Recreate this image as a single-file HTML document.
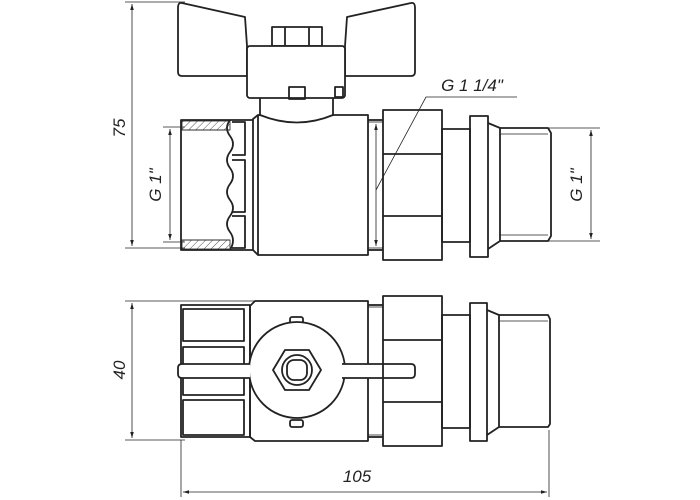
<!DOCTYPE html>
<html><head><meta charset="utf-8"><style>body{margin:0;background:#fff}svg{display:block}text{font-family:"Liberation Sans",sans-serif;font-style:italic;fill:#222}</style></head><body>
<svg width="700" height="500" viewBox="0 0 700 500" xmlns="http://www.w3.org/2000/svg">
<defs>
<pattern id="h" width="5" height="5" patternUnits="userSpaceOnUse" patternTransform="rotate(45)"><line x1="0" y1="0" x2="0" y2="5" stroke="#555" stroke-width="1"/></pattern>
<marker id="a" viewBox="0 0 10 10" refX="10" refY="5" markerWidth="15" markerHeight="6" orient="auto-start-reverse" markerUnits="userSpaceOnUse"><path d="M0,2 L10,5 L0,8 z" fill="#222"/></marker>
</defs>
<g fill="none" stroke="#222" stroke-width="0.8">
<line x1="125" y1="2" x2="185" y2="2"/><line x1="125" y1="248" x2="185" y2="248"/>
<line x1="132" y1="4" x2="132" y2="246" marker-start="url(#a)" marker-end="url(#a)"/>
<line x1="163" y1="127" x2="185" y2="127"/><line x1="163" y1="242" x2="185" y2="242"/>
<line x1="170" y1="129" x2="170" y2="240" marker-start="url(#a)" marker-end="url(#a)"/>
<line x1="548" y1="128" x2="600" y2="128"/><line x1="548" y1="241" x2="600" y2="241"/>
<line x1="591" y1="130" x2="591" y2="239" marker-start="url(#a)" marker-end="url(#a)"/>
<line x1="376" y1="124" x2="376" y2="246" marker-start="url(#a)" marker-end="url(#a)"/>
<polyline points="517,97 426,97 376,190"/>
<line x1="125" y1="301" x2="255" y2="301"/><line x1="125" y1="440" x2="185" y2="440"/>
<line x1="132" y1="303" x2="132" y2="438" marker-start="url(#a)" marker-end="url(#a)"/>
<line x1="181" y1="440" x2="181" y2="497"/><line x1="549" y1="430" x2="549" y2="497"/>
<line x1="183" y1="492" x2="547" y2="492" marker-start="url(#a)" marker-end="url(#a)"/>
<rect x="182" y="121" width="48" height="9" fill="url(#h)"/>
<rect x="182" y="240" width="48" height="9" fill="url(#h)"/>
<line x1="182" y1="130" x2="230" y2="130"/><line x1="182" y1="240" x2="230" y2="240"/>
<line x1="368" y1="122" x2="383" y2="122"/><line x1="368" y1="248" x2="383" y2="248"/>
<line x1="500" y1="134" x2="548" y2="134"/><line x1="500" y1="235" x2="548" y2="235"/>
<line x1="368" y1="307" x2="383" y2="307"/><line x1="368" y1="435" x2="383" y2="435"/>
<line x1="499" y1="321" x2="548" y2="321"/>
</g>
<g fill="none" stroke="#222" stroke-width="1.8" stroke-linejoin="round">
<path d="M182,3 Q178,2 178,8 L178,72 Q178,76 182,76 L247,76 L247,46 L245,17 Z"/>
<path d="M411,3 Q415,2 415,8 L415,72 Q415,76 411,76 L345,76 L345,46 L347,17 Z"/>
<rect x="272" y="27" width="50" height="19"/><line x1="285" y1="27" x2="285" y2="46"/><line x1="309" y1="27" x2="309" y2="46"/>
<rect x="247" y="46" width="98" height="52" rx="3" fill="#fff"/>
<rect x="289" y="87" width="16" height="12"/><rect x="335" y="87" width="8" height="10"/>
<line x1="260" y1="98" x2="260" y2="116"/><line x1="333" y1="98" x2="333" y2="116"/>
<path d="M253,119 L258,115 L260,115 Q297,130 333,115 L368,115 L368,255 L258,255 L253,250 Z"/>
<line x1="258" y1="115" x2="258" y2="255"/>
<path d="M253,120 L181,120 L181,250 L253,250"/>
<path d="M230,120 Q224,128 230,136 Q236,144 230,152 Q224,160 230,168 Q236,176 230,184 Q224,192 230,200 Q236,208 230,216 Q224,224 230,232 Q236,240 230,250"/>
<path d="M232,122 L245,122 L245,155 L232,155 M232,160 L245,160 L245,212 L232,212 M232,216 L245,216 L245,248 L232,248"/>
<rect x="383" y="110" width="59" height="150"/><line x1="383" y1="154" x2="442" y2="154"/><line x1="383" y1="216" x2="442" y2="216"/>
<line x1="368" y1="120" x2="383" y2="120"/><line x1="368" y1="250" x2="383" y2="250"/>
<rect x="442" y="129" width="28" height="113"/>
<rect x="470" y="116" width="18" height="141"/>
<path d="M488,123 L500,128 L500,241 L488,249"/>
<path d="M500,128 L548,128 L551,133 L551,236 L548,241 L500,241"/>
<path d="M255,301 L250,306 L250,437 L255,441 L368,441 L368,301 Z"/>
<rect x="181" y="305" width="69" height="132"/>
<rect x="183" y="309" width="61" height="32"/><rect x="183" y="347" width="61" height="48"/><rect x="183" y="400" width="61" height="35"/>
<rect x="290" y="317" width="13" height="7" rx="2"/><rect x="290" y="420" width="13" height="7" rx="2"/>
<circle cx="297" cy="370" r="48" fill="#fff"/>
<polygon points="273,370 285,350 309,350 321,370 309,390 285,390"/>
<circle cx="297" cy="370" r="15"/>
<rect x="287" y="360" width="20" height="20" rx="7"/>
<path d="M342,364 L411,364 Q415,364 415,368 L415,374 Q415,378 411,378 L342,378" fill="#fff"/>
<rect x="383" y="296" width="59" height="150"/>
<line x1="383" y1="340" x2="442" y2="340"/><line x1="383" y1="402" x2="442" y2="402"/>
<line x1="368" y1="305" x2="383" y2="305"/><line x1="368" y1="437" x2="383" y2="437"/>
<rect x="442" y="315" width="28" height="113"/>
<rect x="470" y="303" width="17" height="138"/>
<path d="M487,310 L499,315 L499,427 L487,435"/>
<path d="M499,315 L548,315 L550,319 L550,424 L548,427 L499,427"/>
<path d="M250,364 L182,364 Q178,364 178,368 L178,374 Q178,378 182,378 L250,378" fill="#fff"/>
</g>
<text x="0" y="0" font-size="17" transform="translate(125,128) rotate(-90)" text-anchor="middle">75</text>
<text x="0" y="0" font-size="17" transform="translate(161,185) rotate(-90)" text-anchor="middle">G 1"</text>
<text x="0" y="0" font-size="17" transform="translate(582,185) rotate(-90)" text-anchor="middle">G 1"</text>
<text x="0" y="0" font-size="17" transform="translate(125,370) rotate(-90)" text-anchor="middle">40</text>
<text x="472" y="91" font-size="17" text-anchor="middle">G 1 1/4"</text>
<text x="357" y="482" font-size="17" text-anchor="middle">105</text>
</svg>
</body></html>
